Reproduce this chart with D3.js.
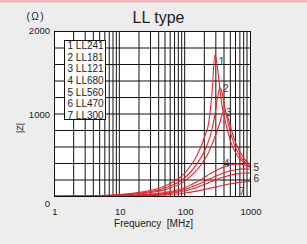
<!DOCTYPE html>
<html>
<head>
<meta charset="utf-8">
<script src="https://cdn.jsdelivr.net/npm/d3@7"></script>
<style>
  body { margin: 0; background: #ecedec; }
  svg { display: block; font-family: "Liberation Sans", Arial, sans-serif; }
</style>
</head>
<body>
<script>
var svgWidth = 307;
var svgHeight = 244;

// frequency grid shared by every curve (MHz)
var freqs = [1, 2, 5, 10, 20, 50, 100, 150, 200, 230, 260, 285, 310, 340, 370, 400, 450, 500, 600, 700, 800, 1000];

// |Z| in ohm
var zLL241 = [3, 5, 12, 25, 50, 130, 290, 490, 730, 900, 1300, 1720, 1580, 1300, 1080, 950, 790, 660, 520, 450, 410, 350];
var zLL181 = [2, 4, 10, 20, 40, 105, 230, 390, 560, 680, 830, 990, 1180, 1320, 1250, 1100, 900, 760, 580, 480, 430, 360];
var zLL121 = [2, 3, 8, 16, 33, 85, 190, 320, 450, 540, 640, 720, 800, 900, 1000, 1030, 960, 830, 640, 530, 460, 380];
var zLL680 = [1, 2, 5, 10, 20, 50, 110, 175, 235, 265, 290, 308, 322, 338, 350, 362, 375, 385, 392, 392, 385, 350];
var zLL560 = [1, 2, 4, 8, 16, 40, 88, 140, 185, 208, 228, 242, 255, 268, 280, 290, 303, 313, 325, 332, 335, 330];
var zLL470 = [0, 1, 3, 6, 13, 33, 70, 110, 148, 168, 185, 197, 208, 220, 230, 238, 250, 260, 272, 280, 285, 285];
var zLL300 = [0, 1, 2, 4, 8, 20, 42, 65, 86, 97, 107, 114, 120, 127, 133, 139, 148, 155, 165, 172, 177, 185];

var seriesNames = ["LL241", "LL181", "LL121", "LL680", "LL560", "LL470", "LL300"];
var seriesValues = [zLL241, zLL181, zLL121, zLL680, zLL560, zLL470, zLL300];

var xTicks = [1, 10, 100, 1000];
var yTicks = [0, 1000, 2000];

var Plot = { left: 54.5, right: 250.5, top: 31.5, bot: 196.5 };

var svg = d3.select("body")
  .append("svg")
  .attr("width", svgWidth)
  .attr("height", svgHeight);

svg.append("rect")
  .attr("width", svgWidth)
  .attr("height", 2.5)
  .attr("fill", "#f4b5bb");

var xAxe = d3.scaleLog()
  .domain([1, 1000])
  .range([Plot.left, Plot.right]);

var yAxe = d3.scaleLinear()
  .domain([0, 2000])
  .range([Plot.bot, Plot.top]);

svg.append("rect")
  .attr("x", Plot.left)
  .attr("y", Plot.top)
  .attr("width", Plot.right - Plot.left)
  .attr("height", Plot.bot - Plot.top)
  .attr("fill", "white");

// grid
var vLines = [];
[1, 10, 100].forEach(function(dec) {
  for (var k = 2; k <= 9; k++) vLines.push(dec * k);
});
vLines.push(10, 100);

svg.append("g").selectAll("line")
  .data(vLines)
  .enter()
  .append("line")
  .attr("x1", d => xAxe(d) - 0.5)
  .attr("x2", d => xAxe(d) - 0.5)
  .attr("y1", Plot.top)
  .attr("y2", Plot.bot)
  .attr("stroke", "#111")
  .attr("stroke-width", 1);

svg.append("g").selectAll("line")
  .data(d3.range(200, 2000, 200))
  .enter()
  .append("line")
  .attr("x1", Plot.left)
  .attr("x2", Plot.right)
  .attr("y1", d => yAxe(d))
  .attr("y2", d => yAxe(d))
  .attr("stroke", "#111")
  .attr("stroke-width", 1);

// curves
var line = d3.line()
  .x(d => xAxe(d[0]))
  .y(d => yAxe(d[1]))
  .curve(d3.curveMonotoneX);

svg.append("g").selectAll("path")
  .data(seriesValues)
  .enter()
  .append("path")
  .attr("d", vals => line(freqs.map((f, i) => [f, vals[i]])))
  .attr("fill", "none")
  .attr("stroke", "#e8232b")
  .attr("stroke-width", 1.1);

svg.append("rect")
  .attr("x", Plot.left)
  .attr("y", Plot.top)
  .attr("width", Plot.right - Plot.left)
  .attr("height", Plot.bot - Plot.top)
  .attr("fill", "none")
  .attr("stroke", "#111")
  .attr("stroke-width", 1);

// curve numbers
var curveLabels = [
  { n: 1, f: 360, z: 1640 },
  { n: 2, f: 420, z: 1305 },
  { n: 3, f: 465, z: 1020 },
  { n: 4, f: 430, z: 405 },
  { n: 5, f: 1230, z: 352 },
  { n: 6, f: 1230, z: 222 },
  { n: 7, f: 740, z: 65 }
];

svg.append("g").selectAll("text")
  .data(curveLabels)
  .enter()
  .append("text")
  .attr("x", d => xAxe(d.f))
  .attr("y", d => yAxe(d.z))
  .attr("dy", "0.36em")
  .attr("text-anchor", "middle")
  .style("font-size", "10px")
  .style("fill", "#333")
  .text(d => d.n);

// axes
var xAxis = svg.append("g")
  .attr("transform", `translate(0, ${Plot.bot})`)
  .call(d3.axisBottom(xAxe).tickValues(xTicks).tickFormat(d3.format("d")).tickSize(0).tickPadding(12));
xAxis.select(".domain").remove();
xAxis.selectAll("text").style("font-size", "9.5px").style("fill", "#222").attr("font-family", null);

var yAxis = svg.append("g")
  .attr("transform", `translate(${Plot.left}, 0)`)
  .call(d3.axisLeft(yAxe).tickValues(yTicks).tickFormat(d3.format("d")).tickSize(0).tickPadding(4.5));
yAxis.select(".domain").remove();
yAxis.selectAll("text").style("font-size", "9.5px").style("fill", "#222").attr("font-family", null);
yAxis.selectAll("text").filter(d => d === 0).attr("dy", "1.0em");
yAxis.selectAll("text").filter(d => d === 2000).attr("dy", "0.22em");

// legend
var legend = svg.append("g");
legend.append("rect")
  .attr("x", 64.5)
  .attr("y", 40.5)
  .attr("width", 41)
  .attr("height", 79)
  .attr("fill", "white")
  .attr("stroke", "#111");

legend.selectAll("text")
  .data(seriesNames)
  .enter()
  .append("text")
  .attr("x", 67.5)
  .attr("y", (d, i) => 49.3 + i * 11.55)
  .style("font-size", "10px")
  .style("fill", "#222")
  .text((d, i) => (i + 1) + " " + d);

// titles
svg.append("text")
  .attr("x", 158.5)
  .attr("y", 22.5)
  .attr("text-anchor", "middle")
  .style("font-size", "16px")
  .style("fill", "#222")
  .text("LL type");

svg.append("text")
  .attr("x", 26.5)
  .attr("y", 19.5)
  .style("font-size", "10px")
  .style("letter-spacing", "1.5px")
  .style("fill", "#222")
  .text("(Ω)");

svg.append("text")
  .attr("transform", "translate(23, 128) rotate(-90)")
  .attr("text-anchor", "middle")
  .style("font-size", "9px")
  .style("fill", "#222")
  .text("|Z|");

svg.append("text")
  .attr("x", 153.5)
  .attr("y", 226.5)
  .attr("text-anchor", "middle")
  .style("font-size", "10px")
  .style("fill", "#222")
  .text("Frequency\u00a0\u00a0[MHz]");
</script>
</body>
</html>
